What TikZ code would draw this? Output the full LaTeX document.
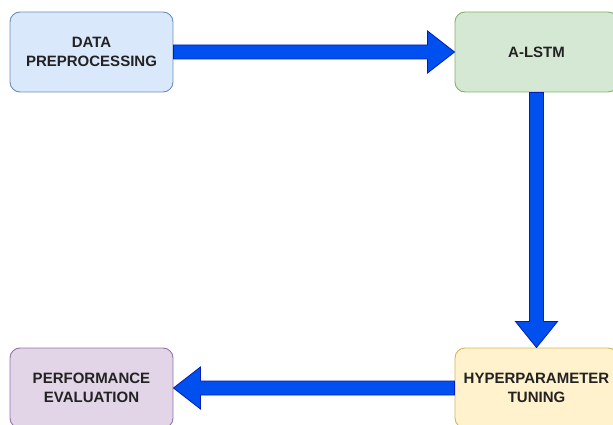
\documentclass[tikz,border=0pt]{standalone}
\usepackage{fontspec}
\setmainfont{Liberation Sans}
\usetikzlibrary{calc}
\definecolor{bluefill}{HTML}{DAE8FC}\definecolor{blueline}{HTML}{6C8EBF}
\definecolor{greenfill}{HTML}{D5E8D4}\definecolor{greenline}{HTML}{82B366}
\definecolor{yellowfill}{HTML}{FFF2CC}\definecolor{yellowline}{HTML}{D6B656}
\definecolor{purplefill}{HTML}{E1D5E7}\definecolor{purpleline}{HTML}{9673A6}
\definecolor{arrowfill}{HTML}{0050EF}\definecolor{arrowline}{HTML}{001DBC}
\definecolor{txt}{HTML}{222222}
\tikzset{
  box/.style={rectangle, rounded corners=10pt, minimum width=163pt, minimum height=80pt,
    line width=0.9pt, align=center, text=txt, inner sep=0pt,
    font=\fontsize{15}{19}\selectfont\bfseries},
  fat/.style={draw=arrowline, fill=arrowfill, line width=0.8pt, line join=miter}
}
\begin{document}
\begin{tikzpicture}[x=1pt,y=-1pt]
\useasboundingbox (0,0) rectangle (613,425);
\node[box, fill=bluefill, draw=blueline] (dp) at (91.5,52) {DATA\\PREPROCESSING};
\node[box, fill=greenfill, draw=greenline] (al) at (536.5,52) {A-LSTM};
\node[box, fill=yellowfill, draw=yellowline] (hp) at (536.5,388) {HYPERPARAMETER\\TUNING};
\node[box, fill=purplefill, draw=purpleline] (pe) at (91.5,388) {PERFORMANCE\\EVALUATION};
% arrow DATA -> A-LSTM
\draw[fat] let \p1=(dp.east), \p2=(al.west) in
  (\x1,\y1-7pt) -- (\x2-27pt,\y1-7pt) -- (\x2-27pt,\y1-21pt) -- (\x2,\y2)
  -- (\x2-27pt,\y1+21pt) -- (\x2-27pt,\y1+7pt) -- (\x1,\y1+7pt) -- cycle;
% arrow A-LSTM -> HYPERPARAMETER
\draw[fat] let \p1=(al.south), \p2=(hp.north) in
  (\x1-7pt,\y1) -- (\x1-7pt,\y2+26pt) -- (\x1-21pt,\y2+26pt) -- (\x2,\y2)
  -- (\x1+21pt,\y2+26pt) -- (\x1+7pt,\y2+26pt) -- (\x1+7pt,\y1) -- cycle;
% arrow HYPERPARAMETER -> PERFORMANCE
\draw[fat] let \p1=(hp.west), \p2=(pe.east) in
  (\x1,\y1-7pt) -- (\x2+27pt,\y1-7pt) -- (\x2+27pt,\y1-21pt) -- (\x2,\y2)
  -- (\x2+27pt,\y1+21pt) -- (\x2+27pt,\y1+7pt) -- (\x1,\y1+7pt) -- cycle;
\end{tikzpicture}
\end{document}
